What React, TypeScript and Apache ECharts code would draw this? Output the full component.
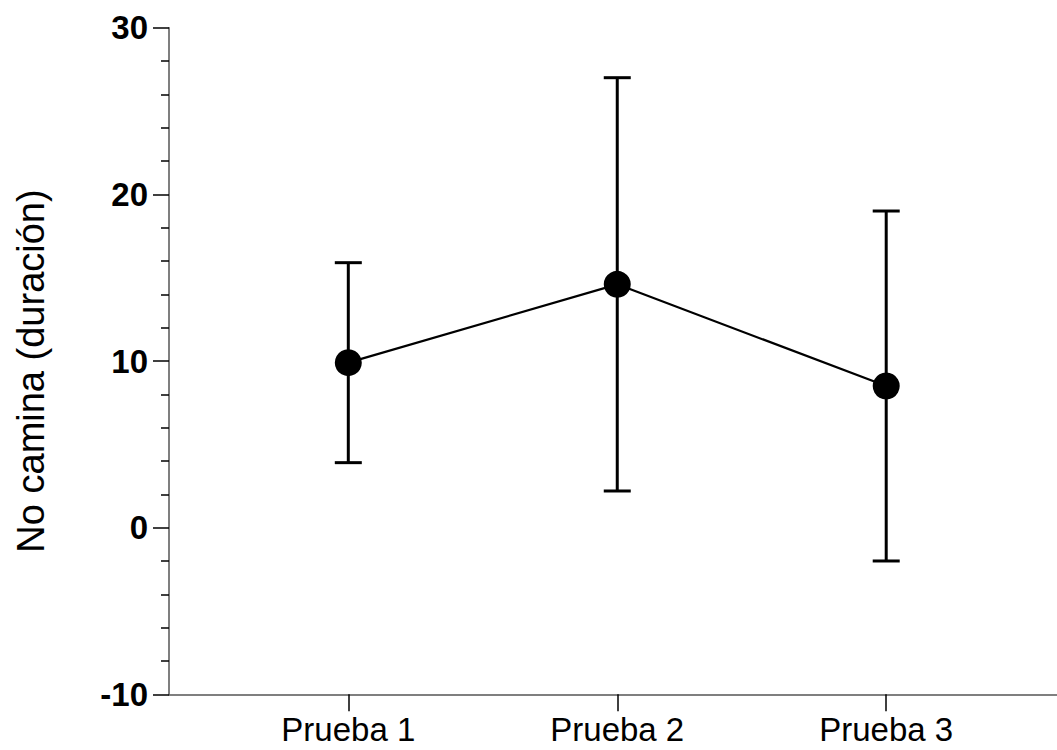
import React, { useEffect, useRef } from "react";
import * as echarts from "echarts";

const categories = ["Prueba 1", "Prueba 2", "Prueba 3"];
const means = [9.9, 14.6, 8.5];
const upper = [15.9, 27.0, 19.0];
const lower = [3.9, 2.2, -2.0];
const yTicks = [-10, 0, 10, 20, 30];
const yAxisName = "No camina (duración)";

export default function App() {
  const ref = useRef<HTMLDivElement>(null);
  useEffect(() => {
    document.body.style.margin = "0";
    const chart = echarts.init(ref.current!, null, { renderer: "svg" });
    const pos = categories.map((_, i) => i + 1);
    const font = "Arial, 'Liberation Sans', sans-serif";
    chart.setOption({
      animation: false,
      grid: { left: 169, top: 27.7, right: 0, bottom: 55.7, containLabel: false },
      graphic: [
        {
          type: "text",
          x: 31,
          y: 371,
          rotation: Math.PI / 2,
          style: {
            text: yAxisName,
            fill: "#000",
            fontFamily: font,
            fontSize: 38,
            textAlign: "center",
            textVerticalAlign: "middle",
          },
        },
      ],
      xAxis: {
        type: "value",
        min: 1 / 3,
        max: 3.635,
        axisLine: { show: true, onZero: false, lineStyle: { color: "#555", width: 1.5 } },
        axisTick: { show: true, length: 17, customValues: pos, lineStyle: { color: "#000", width: 1.5 } },
        axisLabel: {
          customValues: pos,
          formatter: (v: number) => categories[Math.round(v) - 1] ?? "",
          color: "#000",
          fontFamily: font,
          fontSize: 33,
          margin: 19,
        },
        splitLine: { show: false },
      },
      yAxis: {
        type: "value",
        min: yTicks[0],
        max: yTicks[yTicks.length - 1],
        interval: 10,
        axisLine: { show: true, lineStyle: { color: "#555", width: 1.5 } },
        axisTick: { show: true, length: 16, lineStyle: { color: "#000", width: 1.5 } },
        minorTick: { show: true, splitNumber: 5, length: 8, lineStyle: { color: "#000", width: 1.5 } },
        axisLabel: {
          color: "#000",
          fontFamily: font,
          fontWeight: "bold",
          fontSize: 33,
          margin: 21,
        },
        splitLine: { show: false },
      },
      series: [
        {
          type: "custom",
          z: 1,
          data: pos.map((p, i) => [p, lower[i], upper[i]]),
          renderItem: (params: any, api: any) => {
            const x = api.value(0);
            const lo = api.coord([x, api.value(1)]);
            const hi = api.coord([x, api.value(2)]);
            const hw = 13.5;
            const style = { stroke: "#000", lineWidth: 3 };
            return {
              type: "group",
              children: [
                { type: "line", shape: { x1: lo[0], y1: lo[1], x2: hi[0], y2: hi[1] }, style },
                { type: "line", shape: { x1: hi[0] - hw, y1: hi[1], x2: hi[0] + hw, y2: hi[1] }, style },
                { type: "line", shape: { x1: lo[0] - hw, y1: lo[1], x2: lo[0] + hw, y2: lo[1] }, style },
              ],
            };
          },
        },
        {
          type: "line",
          z: 2,
          data: pos.map((p, i) => [p, means[i]]),
          symbol: "circle",
          symbolSize: 27,
          lineStyle: { color: "#000", width: 2.2 },
          itemStyle: { color: "#000" },
        },
      ],
    });
    return () => chart.dispose();
  }, []);
  return <div ref={ref} style={{ width: 1057, height: 750 }} />;
}
